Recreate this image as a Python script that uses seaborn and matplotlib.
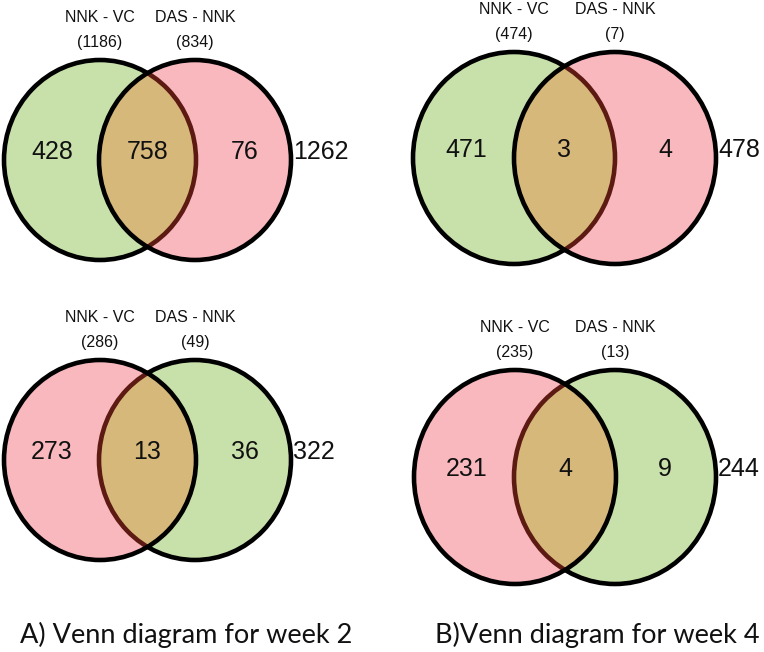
import matplotlib
matplotlib.use("Agg")
import matplotlib.pyplot as plt
from matplotlib.patches import Ellipse
import seaborn as sns

# Venn counts per panel: only-left, both, only-right, total
only_left = [428, 471, 273, 231]
both = [758, 3, 13, 4]
only_right = [76, 4, 36, 9]
totals = [1262, 478, 322, 244]
set_names = ["NNK - VC", "DAS - NNK"]
left_sizes = [1186, 474, 286, 235]
right_sizes = [834, 7, 49, 13]
captions = ["A) Venn diagram for week 2", "B)Venn diagram for week 4"]

sns.set_theme(style="white")
plt.rcParams['font.family'] = ['Liberation Sans', 'DejaVu Sans']

green = "#c8e0aa"
pink = "#f8b8be"
tan = "#d6b87a"
dark_edge = "#5c1a12"

# panel layout in pixels: left centre x, right centre x, centre y, rx, ry, label y, colours
panels = [
    dict(xl=100, xr=195, cy=160, rx=96, ry=100, ly=18, left="green"),
    dict(xl=514, xr=615, cy=158, rx=101, ry=106, ly=10, left="green"),
    dict(xl=100, xr=195, cy=460, rx=96, ry=100, ly=318, left="pink"),
    dict(xl=515, xr=615, cy=477, rx=101, ry=107, ly=327, left="pink"),
]

fig = plt.figure(figsize=(7.64, 6.52), dpi=100)
ax = fig.add_axes([0, 0, 1, 1])
ax.set_xlim(0, 764)
ax.set_ylim(652, 0)
ax.axis('off')

for i, p in enumerate(panels):
    if p["left"] == "green":
        gx, px = p["xl"], p["xr"]
    else:
        gx, px = p["xr"], p["xl"]
    w, h = 2 * p["rx"], 2 * p["ry"]
    # green circle with black edge
    ax.add_patch(Ellipse((gx, p["cy"]), w, h, facecolor=green, edgecolor="black", lw=3.3, zorder=1))
    # pink circle fill
    pk = Ellipse((px, p["cy"]), w, h, facecolor=pink, edgecolor="none", zorder=2)
    ax.add_patch(pk)
    # overlap lens
    lens = Ellipse((gx, p["cy"]), w, h, facecolor=tan, edgecolor=dark_edge, lw=3.3, zorder=3)
    ax.add_patch(lens)
    lens.set_clip_path(pk)
    # pink outline on top
    ax.add_patch(Ellipse((px, p["cy"]), w, h, facecolor="none", edgecolor="black", lw=3.3, zorder=4))

    ny = p["cy"] - 8
    mid = (p["xl"] + p["xr"]) / 2
    ax.text(p["xl"] - 48, ny, str(only_left[i]), ha="center", va="center", fontsize=18, color="#111111", zorder=5)
    ax.text(mid, ny, str(both[i]), ha="center", va="center", fontsize=18, color="#111111", zorder=5)
    ax.text(p["xr"] + 50, ny, str(only_right[i]), ha="center", va="center", fontsize=18, color="#111111", zorder=5)
    ax.text(p["xr"] + p["rx"] + 2, ny, str(totals[i]), ha="left", va="center", fontsize=18, color="#111111", zorder=5)

    ax.text(p["xl"], p["ly"], set_names[0], ha="center", va="center", fontsize=11.5, color="#111111")
    ax.text(p["xr"], p["ly"], set_names[1], ha="center", va="center", fontsize=11.5, color="#111111")
    ax.text(p["xl"], p["ly"] + 25, "(%d)" % left_sizes[i], ha="center", va="center", fontsize=11.5, color="#111111")
    ax.text(p["xr"], p["ly"] + 25, "(%d)" % right_sizes[i], ha="center", va="center", fontsize=11.5, color="#111111")

ax.text(20, 635, captions[0], ha="left", va="center", fontsize=19.5, family=["Lato", "DejaVu Sans"], color="#111111")
ax.text(435, 635, captions[1], ha="left", va="center", fontsize=19.5, family=["Lato", "DejaVu Sans"], color="#111111")

fig.savefig("out.png", dpi=100)
